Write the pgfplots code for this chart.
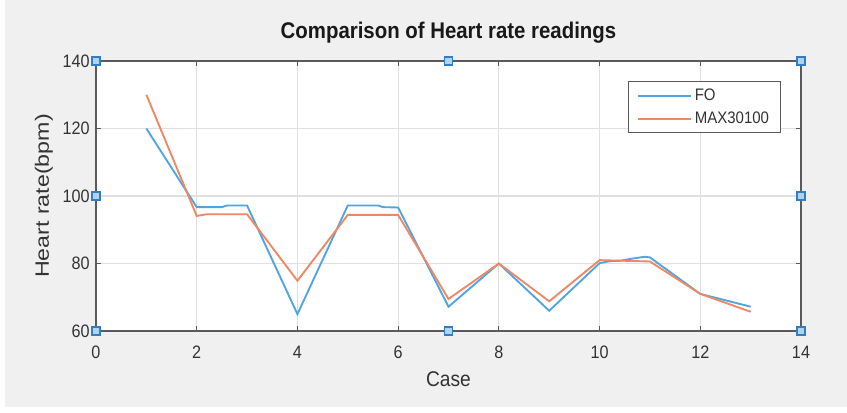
\documentclass[border=0pt]{standalone}
\usepackage{fontspec}
\setmainfont{Liberation Sans}[FakeStretch=0.9]
\newfontfamily\vfont{Liberation Sans}[FakeStretch=1.2]
\usepackage{pgfplots}
\pgfplotsset{compat=1.18}
\definecolor{bg}{HTML}{F0F0F0}
\definecolor{fo}{RGB}{80,165,225}
\definecolor{mx}{RGB}{238,135,100}
\definecolor{hb}{RGB}{50,125,195}
\definecolor{hf}{RGB}{175,210,238}
\definecolor{ax}{HTML}{5A5A5A}
\definecolor{tx}{HTML}{333333}
\begin{document}
\begin{tikzpicture}[x=0.75pt,y=0.75pt]
\fill[white] (0,0) rectangle (847,412);
\fill[bg] (5,5) rectangle (847,412);
\begin{axis}[
  at={(72pt,60.75pt)}, anchor=south west,
  scale only axis, width=528.75pt, height=202.5pt,
  xmin=0, xmax=14, ymin=60, ymax=140,
  xtick={0,2,...,14}, ytick={60,80,...,140},
  clip=false,
  axis background/.style={fill=white},
  axis line style={ax, line width=1.2pt},
  tick style={ax, line width=0.8pt},
  tick align=inside, major tick length=4pt,
  grid=major, major grid style={black!12, line width=0.8pt},
  /pgf/number format/assume math mode=true,
  tick label style={font=\fontsize{13.5}{15}\selectfont, text=tx},
  xticklabel style={anchor=base, inner sep=0pt, yshift=-20.3pt},
  yticklabel style={anchor=east, inner sep=0pt, xshift=-4.5pt},
  title={Comparison of Heart rate readings},
  title style={at={(axis description cs:0.5,1.053)}, anchor=base, inner sep=0pt, font=\fontsize{17}{20}\selectfont\bfseries, text=black!90},
  xlabel={Case},
  xlabel style={at={(axis description cs:0.5,-0.206)}, anchor=base, inner sep=0pt, font=\fontsize{16}{19}\selectfont, text=tx},
  ylabel={\vfont Heart rate(bpm)},
  ylabel style={at={(axis description cs:-0.0667,0.5)}, anchor=base, inner sep=0pt, font=\fontsize{14.5}{17}\selectfont, text=tx},
  legend style={at={(0.9716,0.926)}, anchor=north east, draw=ax, line width=0.9pt, fill=white,
    font=\fontsize{12.5}{15}\selectfont, text=tx, inner xsep=6.5pt, inner ysep=3.5pt, row sep=3pt,
    nodes={inner sep=2pt}},
  legend cell align=left,
  legend image code/.code={\draw[#1, line width=1.4pt] (0pt,0pt) -- (40pt,0pt);},
]
\addplot[fo, line width=1.4pt] coordinates {
(1,120) (2,96.7) (2.5,96.7) (2.6,97.2) (3,97.2) (4,65) (5,97.2) (5.6,97.2) (5.7,96.7) (6,96.6)
(7,67.2) (8,80) (9,66) (10,80.1) (10.2,80.7) (10.4,80.8) (10.67,81.5) (10.9,82) (11,81.8) (12,71) (13,67.2)
};
\addlegendentry{FO}
\addplot[mx, line width=1.4pt] coordinates {
(1,130) (2,94.1) (2.2,94.6) (3,94.6) (4,74.9) (5,94.4) (6,94.4) (7,69.5) (8,80) (9,68.8)
(10,81) (11,80.6) (12,71) (13,65.7)
};
\addlegendentry{MAX30100}
\addplot[only marks, mark=square*, mark size=2.9pt, mark options={fill=hf, draw=hb, line width=1pt}, forget plot]
coordinates {(0,60) (0,100) (0,140) (7,60) (7,140) (14,60) (14,100) (14,140)};
\end{axis}
\end{tikzpicture}
\end{document}
